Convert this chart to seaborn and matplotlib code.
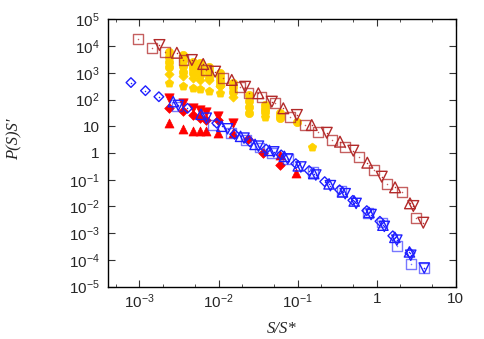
import numpy as np
import matplotlib
matplotlib.use('Agg')
import matplotlib.pyplot as plt
from matplotlib.ticker import LogLocator, FuncFormatter, NullLocator, NullFormatter
import seaborn as sns

sns.set_style('ticks')
plt.rcParams['font.family'] = ['Liberation Sans', 'DejaVu Sans']
plt.rcParams['mathtext.fontset'] = 'custom'
plt.rcParams['mathtext.rm'] = 'Liberation Sans'
plt.rcParams['mathtext.default'] = 'regular'

# upper (brown) curve, open markers
br_sq_x = [9.5e-4, 1.44e-3, 2.1e-3, 3.6e-3, 7.0e-3, 1.15e-2, 1.87e-2, 2.4e-2, 3.5e-2, 5.2e-2,
           8.0e-2, 0.124, 0.183, 0.27, 0.40, 0.60, 0.93, 1.36, 2.08, 3.12]
br_sq_y = [1.8e4, 8.2e3, 6.1e3, 3.0e3, 1.26e3, 620, 286, 180, 127, 72,
           22.8, 11.1, 6.3, 3.06, 1.72, 0.73, 0.23, 0.069, 0.036, 3.6e-3]
br_up_x = [2.97e-3, 6.4e-3, 1.47e-2, 3.19e-2, 6.6e-2, 0.151, 0.344, 0.762, 1.71, 2.64]
br_up_y = [5.6e3, 2.13e3, 540, 171, 47, 11.1, 2.65, 0.434, 0.052, 0.0131]
br_dn_x = [1.79e-3, 4.6e-3, 9.06e-3, 2.17e-2, 4.72e-2, 9.8e-2, 0.234, 0.507, 1.16, 2.91, 3.89]
br_dn_y = [1.09e4, 3.0e3, 1.1e3, 300, 83, 26.4, 5.7, 1.22, 0.13, 0.0104, 2.47e-3]

# lower (blue) curve, open markers
bl_sq_x = [3.0e-3, 8.5e-3, 1.45e-2, 2.2e-2, 3.3e-2, 4.8e-2, 7.5e-2, 0.158, 0.36, 0.78,
           1.16, 1.79, 2.7, 3.98]
bl_sq_y = [55, 11, 5.5, 3.0, 1.6, 1.0, 0.6, 0.2, 0.039, 5.8e-3,
           2.5e-3, 3.3e-4, 6.9e-5, 4.9e-5]
bl_up_x = [2.67e-3, 6.0e-3, 1.1e-2, 1.9e-2, 2.9e-2, 4.4e-2, 6.8e-2, 0.102, 0.16, 0.25,
           0.37, 0.52, 0.8, 1.2, 1.7, 2.6]
bl_up_y = [83, 28, 10, 4.2, 2.1, 1.25, 0.75, 0.33, 0.17, 0.07,
           0.035, 0.016, 6e-3, 2e-3, 7e-4, 2.0e-4]
bl_dn_x = [3.1e-3, 7.0e-3, 1.3e-2, 2.1e-2, 3.2e-2, 5.0e-2, 7.5e-2, 0.11, 0.17, 0.26,
           0.40, 0.55, 0.85, 1.25, 1.8, 2.7, 4.0]
bl_dn_y = [60, 20, 8, 3.6, 1.8, 1.1, 0.6, 0.3, 0.15, 0.06,
           0.03, 0.013, 5e-3, 1.8e-3, 5.5e-4, 1.5e-4, 5.0e-5]
bl_di_x = [7.8e-4, 1.19e-3, 1.76e-3, 4.05e-3, 9.5e-3, 1.6e-2, 2.5e-2, 4.0e-2, 6.2e-2, 0.095,
           0.14, 0.22, 0.34, 0.5, 0.75, 1.1, 1.6, 2.64]
bl_di_y = [430, 214, 127, 47, 13, 5, 2.6, 1.4, 0.85, 0.4,
           0.22, 0.085, 0.042, 0.017, 7e-3, 2.8e-3, 8e-4, 1.82e-4]

# gold, filled
gd_o_x = [2.33e-3] * 4 + [3.54e-3] * 4 + [4.73e-3] * 4 + [5.85e-3] * 4 + [7.67e-3] * 4 + \
         [1.03e-2] * 4 + [1.54e-2] * 3 + [2.46e-2] * 4 + [3.88e-2] * 3 + [6.0e-2] * 3 + [9.8e-2]
gd_o_y = [6.1e3, 4.0e3, 2.6e3, 1.69e3, 4.6e3, 2.9e3, 1.8e3, 1.1e3, 2.6e3, 1.87e3, 1.33e3, 957,
          2.26e3, 1.62e3, 1.16e3, 826, 1.69e3, 1.2e3, 870, 622, 957, 684, 489, 349,
          405, 282, 196, 148, 88, 52, 30.5, 62, 46, 35, 31, 25, 20, 14.8]
gd_di_x = [2.33e-3, 3.54e-3, 4.73e-3, 5.85e-3, 7.67e-3, 1.03e-2, 1.54e-2]
gd_di_y = [900, 759, 622, 537, 537, 321, 121]
gd_pe_x = [2.33e-3, 3.54e-3, 4.73e-3, 5.85e-3, 7.67e-3, 1.03e-2, 3.88e-2, 0.151]
gd_pe_y = [405, 321, 263, 241, 214, 171, 21.6, 1.63]

# red, filled
rd_dn_x = [2.33e-3, 3.54e-3, 4.73e-3, 5.85e-3, 6.97e-3, 9.97e-3, 1.52e-2]
rd_dn_y = [117, 72, 47, 40.6, 35, 24.2, 12.9]
rd_di_x = [2.33e-3, 3.54e-3, 4.73e-3, 5.85e-3, 6.97e-3, 9.97e-3, 2.39e-2, 3.66e-2, 6.0e-2]
rd_di_y = [49.4, 37, 26.4, 19.9, 17.1, 17.1, 3.25, 1.03, 0.356]
rd_up_x = [2.33e-3, 3.54e-3, 4.73e-3, 5.85e-3, 6.97e-3, 9.97e-3, 1.52e-2, 6.0e-2, 9.6e-2]
rd_up_y = [12.9, 7.7, 6.8, 6.8, 6.8, 5.5, 5.5, 0.84, 0.183]

brown = '#b22a2a'
blue = '#1f1fff'
gold = '#ffd200'
red = '#ff0000'

fig = plt.figure(figsize=(4.85, 3.39), dpi=100)
ax = fig.add_axes([0.2227, 0.1543, 0.7169, 0.7888])
ax.set_xscale('log')
ax.set_yscale('log')


def open_pts(x, y, m, c, s, a=1.0):
    sns.scatterplot(x=x, y=y, marker=m, s=s, color=c, facecolor='none', edgecolor=c,
                    linewidth=1.0, alpha=a, ax=ax)
    # gnuplot style dot in the middle
    sns.scatterplot(x=x, y=y, marker='o', s=1.2, color=c, linewidth=0, alpha=a, ax=ax)


def full_pts(x, y, m, c, s):
    sns.scatterplot(x=x, y=y, marker=m, s=s, color=c, edgecolor=c, linewidth=0.5, ax=ax)


full_pts(gd_o_x, gd_o_y, 'o', gold, 36)
full_pts(gd_di_x, gd_di_y, 'D', gold, 22)
full_pts(gd_pe_x, gd_pe_y, 'p', gold, 40)

full_pts(rd_dn_x, rd_dn_y, 'v', red, 45)
full_pts(rd_di_x, rd_di_y, 'D', red, 24)
full_pts(rd_up_x, rd_up_y, '^', red, 42)

open_pts(br_sq_x, br_sq_y, 's', brown, 50, 0.75)
open_pts(br_up_x, br_up_y, '^', brown, 60)
open_pts(br_dn_x, br_dn_y, 'v', brown, 60)

open_pts(bl_sq_x, bl_sq_y, 's', blue, 50, 0.6)
open_pts(bl_up_x, bl_up_y, '^', blue, 55)
open_pts(bl_dn_x, bl_dn_y, 'v', blue, 55)
open_pts(bl_di_x, bl_di_y, 'D', blue, 24)

ax.set_xlim(4.0e-4, 10)
ax.set_ylim(1e-5, 1e5)


def fmt(v, pos):
    e = int(round(np.log10(v)))
    if e == 0:
        return '1'
    if e == 1:
        return '10'
    return r'$10^{%d}$' % e


ax.xaxis.set_major_locator(LogLocator(base=10, numticks=20))
ax.xaxis.set_minor_locator(LogLocator(base=10, subs=[2, 5], numticks=20))
ax.xaxis.set_minor_formatter(NullFormatter())
ax.xaxis.set_major_formatter(FuncFormatter(fmt))
ax.yaxis.set_major_locator(LogLocator(base=10, numticks=20))
ax.yaxis.set_minor_locator(NullLocator())
ax.yaxis.set_major_formatter(FuncFormatter(fmt))

ax.tick_params(which='both', direction='in', top=True, right=True, labelsize=11, color='#333333')
ax.tick_params(which='major', length=5, width=0.8)
ax.tick_params(which='minor', length=2.5, width=0.6)
ax.tick_params(axis='y', pad=6)
ax.tick_params(axis='x', pad=4)
for sp in ax.spines.values():
    sp.set_linewidth(1.0)
    sp.set_color('black')

ax.set_xlabel('S/S*', family=['Liberation Serif'], style='italic', fontsize=12, va='center')
ax.set_ylabel('P(S)S\u2032', family=['Liberation Serif'], style='italic', fontsize=12,
              va='center')
ax.xaxis.set_label_coords(0.5, -0.158)
ax.yaxis.set_label_coords(-0.27, 0.55)

fig.savefig('out.png', dpi=100)
